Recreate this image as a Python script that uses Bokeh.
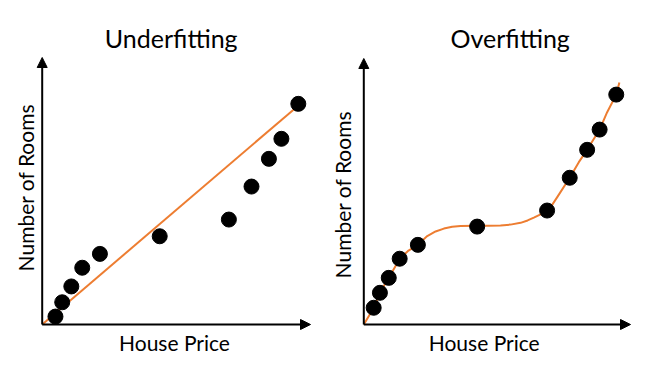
from bokeh.plotting import figure
from bokeh.layouts import row
from bokeh.models import Label, Arrow, NormalHead, Range1d
from bokeh.embed import file_html
from bokeh.resources import INLINE

# ---------------- data (arbitrary units: house price vs number of rooms) ----------------
under_price = [0.51, 0.77, 1.12, 1.54, 2.22, 4.52, 7.18, 8.05, 8.72, 9.20, 9.85]
under_rooms = [0.36, 1.01, 1.73, 2.58, 3.21, 4.01, 4.77, 6.27, 7.53, 8.44, 10.03]
under_fit_price = [0.0, 9.70]
under_fit_rooms = [0.0, 9.80]

over_price = [0.38, 0.62, 0.96, 1.38, 2.08, 4.36, 7.05, 7.92, 8.59, 9.07, 9.71]
over_rooms = [0.76, 1.44, 2.12, 2.99, 3.62, 4.45, 5.18, 6.67, 7.94, 8.86, 10.45]
over_fit_price = [0.0, 0.385, 0.615, 0.96, 1.385, 1.72, 2.08, 2.44, 2.76, 3.08, 3.40,
                  3.72, 4.36, 4.80, 5.26, 5.64, 6.03, 6.30, 6.54, 6.80, 7.05, 7.25,
                  7.44, 7.92, 8.27, 8.59, 9.07, 9.36, 9.71, 9.83]
over_fit_rooms = [0.0, 0.76, 1.44, 2.12, 2.99, 3.36, 3.62, 4.02, 4.23, 4.36, 4.44,
                  4.48, 4.49, 4.49, 4.50, 4.54, 4.62, 4.73, 4.86, 5.01, 5.18, 5.45,
                  5.79, 6.67, 7.38, 7.94, 8.86, 9.65, 10.45, 11.0]

titles = ["Underfitting", "Overfitting"]
x_label = "House Price"
y_label = "Number of Rooms"

ORANGE = "#ED7D31"
FONT = "Lato"

# pixel scale of the data units
SX, SY = 26.0, 22.0


def panel(width, height, origin_px, title, px, py, fx, fy, x_arrow, y_arrow,
          title_pos, xlab_pos, ylab_pos, left_offset):
    ox, oy = origin_px  # origin position within the figure (pixels from top-left)
    p = figure(width=width, height=height, output_backend="svg", toolbar_location=None,
               x_axis_type=None, y_axis_type=None, min_border=0,
               x_range=Range1d(-ox / SX, (width - ox) / SX),
               y_range=Range1d(-(height - oy) / SY, oy / SY))
    p.outline_line_color = None
    p.background_fill_color = "white"
    p.border_fill_color = "white"

    def dx(x):
        return (x - left_offset - ox) / SX

    def dy(y):
        return (oy - y) / SY

    # axes drawn as arrows
    p.add_layout(Arrow(x_start=0, y_start=0, x_end=x_arrow, y_end=0, line_width=2,
                       line_color="black",
                       end=NormalHead(size=10, fill_color="black", line_color="black")))
    p.add_layout(Arrow(x_start=0, y_start=0, x_end=0, y_end=y_arrow, line_width=2,
                       line_color="black",
                       end=NormalHead(size=10, fill_color="black", line_color="black")))

    p.line(fx, fy, line_color=ORANGE, line_width=2, line_join="round")
    p.scatter(px, py, size=15, fill_color="black", line_color="black")

    p.add_layout(Label(x=dx(title_pos[0]), y=dy(title_pos[1]), text=title,
                       text_font=FONT, text_font_size="25px", text_align="center",
                       text_baseline="middle", text_color="black"))
    p.add_layout(Label(x=dx(xlab_pos[0]), y=dy(xlab_pos[1]), text=x_label,
                       text_font=FONT, text_font_size="21px", text_align="center",
                       text_baseline="middle", text_color="black"))
    p.add_layout(Label(x=dx(ylab_pos[0]), y=dy(ylab_pos[1]), text=y_label,
                       text_font=FONT, text_font_size="21px", text_align="center",
                       text_baseline="middle", text_color="black", angle=90,
                       angle_units="deg"))
    return p


H = 366
p1 = panel(330, H, (41.7, 324), titles[0], under_price, under_rooms,
           under_fit_price, under_fit_rooms, (310 - 41.7) / SX, (324 - 57) / SY,
           (170.7, 37), (174, 342), (25, 187), 0)
p2 = panel(321, H, (363.3 - 330, 324), titles[1], over_price, over_rooms,
           over_fit_price, over_fit_rooms, (630 - 363.3) / SX, (324 - 58) / SY,
           (509.7, 37), (483.7, 342), (342, 194), 330)

layout = row(p1, p2)
open("out.html", "w").write(file_html(layout, INLINE))
